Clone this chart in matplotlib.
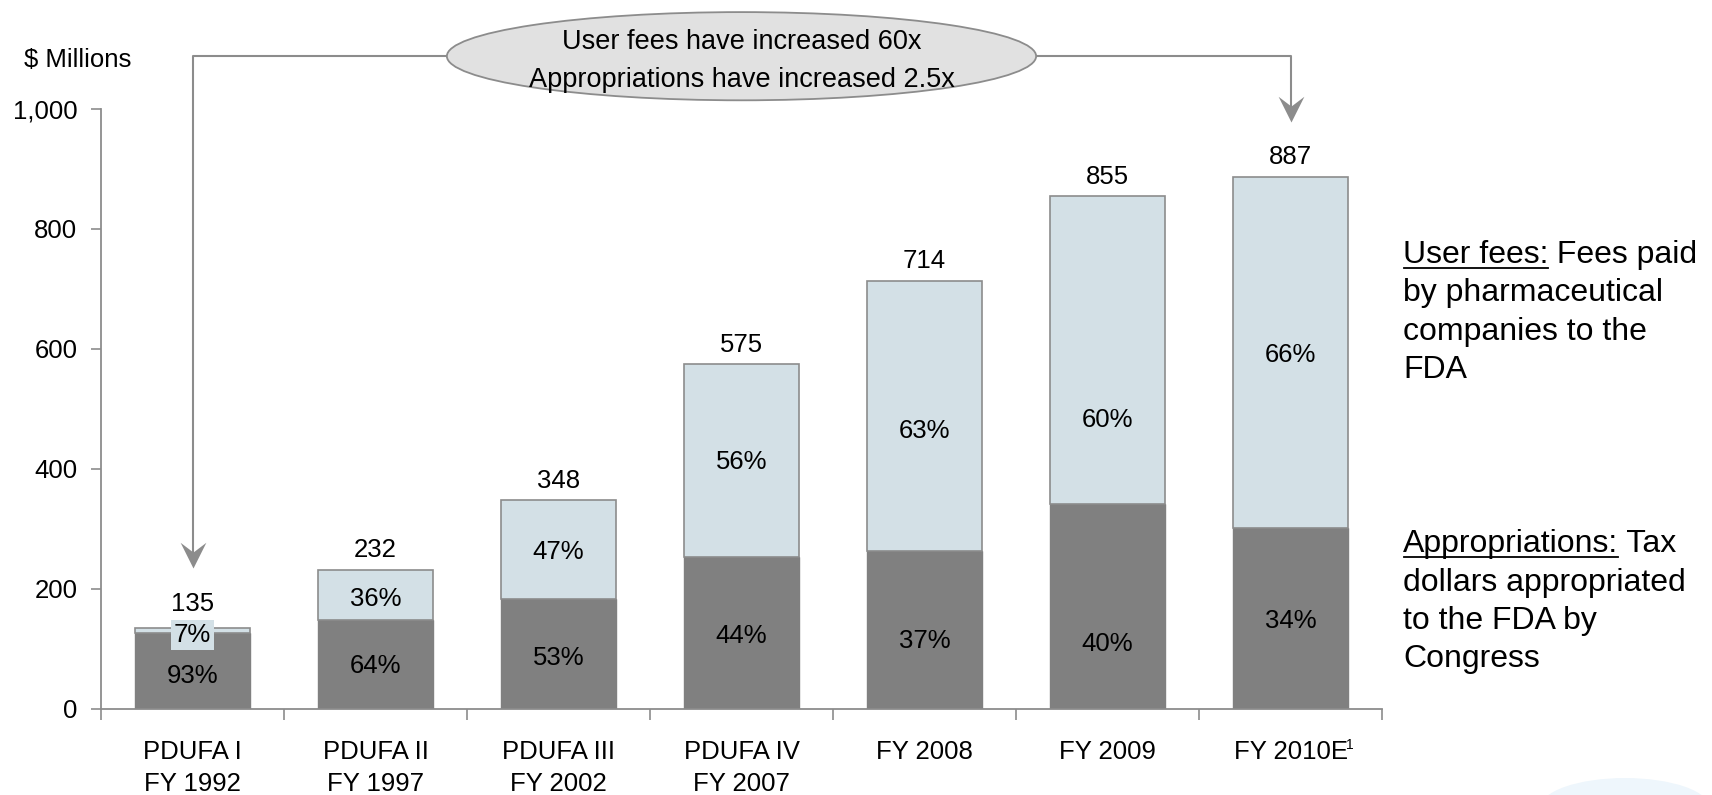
import matplotlib
matplotlib.use("Agg")
import matplotlib.pyplot as plt
import numpy as np
from matplotlib.patches import Ellipse
from matplotlib.path import Path
from matplotlib.lines import Line2D

plt.rcParams['font.family'] = ['Liberation Sans', 'DejaVu Sans']

# data ($ millions)
categories = ["PDUFA I\nFY 1992", "PDUFA II\nFY 1997", "PDUFA III\nFY 2002",
              "PDUFA IV\nFY 2007", "FY 2008", "FY 2009", "FY 2010E"]
totals = [135, 232, 348, 575, 714, 855, 887]
appropriations = [126, 149, 184, 253, 264, 342, 302]
user_fees = [9, 83, 164, 322, 450, 513, 585]
approp_pct = [93, 64, 53, 44, 37, 40, 34]
fees_pct = [7, 36, 47, 56, 63, 60, 66]

callout = "User fees have increased 60x\nAppropriations have increased 2.5x"

# where the % labels sit on each bar (y, in $M) - not always the segment centre
approp_label_y = [55, 72, 85, 122, 113, 108, 146]
fees_label_y = [124, 184, 261, 412, 463, 481, 590]

DARK = '#808080'
LIGHT = '#d3e0e6'
EDGE = '#8c8c8c'
ELL = '#e1e1e1'

W, H = 1712, 795
fig = plt.figure(figsize=(W / 100, H / 100), dpi=100)
ax = fig.add_axes([101 / W, 1 - 709 / H, 1281 / W, 600 / H])

x = np.arange(len(categories))
bw = 0.63
ax.bar(x, appropriations, width=bw, color=DARK, edgecolor=DARK, linewidth=1)
ax.bar(x, user_fees, bottom=appropriations, width=bw, color=LIGHT,
       edgecolor=EDGE, linewidth=1.2)

fs = 18.5
for i, xi in enumerate(x):
    small = user_fees[i] < 30
    ax.annotate(str(totals[i]), (xi, totals[i]), xytext=(0, 12 if small else 9),
                textcoords='offset points', ha='center', va='baseline', fontsize=fs)
    ax.text(xi, approp_label_y[i], f"{approp_pct[i]}%", ha='center', va='center', fontsize=fs)
    # tiny segment -> label gets its own light box
    box = dict(boxstyle='square,pad=0.12', fc=LIGHT, ec='none') if small else None
    ax.text(xi, fees_label_y[i], f"{fees_pct[i]}%", ha='center', va='center',
            fontsize=fs, bbox=box)

ax.set_xlim(-0.5, len(categories) - 0.5)
ax.set_ylim(0, 1000)
for s in ['top', 'right']:
    ax.spines[s].set_visible(False)
for s in ['left', 'bottom']:
    ax.spines[s].set_color(EDGE)
    ax.spines[s].set_linewidth(1.3)

yt = np.arange(0, 1001, 200)
ax.set_yticks(yt)
ax.set_yticklabels([f"{v:,}" for v in yt])
ax.tick_params(axis='y', length=7, width=1.2, color=EDGE, pad=10, labelsize=fs)

ax.set_xticks(np.arange(-0.5, len(categories), 1))
ax.set_xticklabels([])
ax.set_xticks(x, minor=True)
ax.set_xticklabels(categories, minor=True, linespacing=1.42)
ax.tick_params(axis='x', which='major', length=8, width=1.2, color=EDGE)
ax.tick_params(axis='x', which='minor', length=0, pad=22, labelsize=fs)
# footnote marker on the last label
ax.annotate("1", xy=(x[-1], 0), xytext=(40, -21), textcoords='offset points',
            ha='left', va='top', fontsize=10, annotation_clip=False)

fig.text(78 / W, 1 - 60 / H, "$ Millions", ha='center', va='center', fontsize=fs)

# callout ellipse + connectors
cy = 1088
ex, ew, eh = 3, 3.22, 147
ax.add_patch(Ellipse((ex, cy), ew, eh, fc=ELL, ec=EDGE, lw=1.3, clip_on=False, zorder=3))
ax.text(ex, cy - 8, callout, ha='center', va='center', fontsize=19.5,
        linespacing=1.6, zorder=4)

head = Path([(0, 0), (-0.5, 1), (0, 0.62), (0.5, 1), (0, 0)],
            [Path.MOVETO, Path.LINETO, Path.LINETO, Path.LINETO, Path.CLOSEPOLY])
tip_l = totals[0] + 100
tip_r = totals[-1] + 91
ax.plot([x[0], x[0], ex - ew / 2], [tip_l + 15, cy, cy], color=EDGE, lw=1.5, clip_on=False)
ax.plot([ex + ew / 2, x[-1], x[-1]], [cy, cy, tip_r + 15], color=EDGE, lw=1.5, clip_on=False)
for xa, ya in [(x[0], tip_l), (x[-1], tip_r)]:
    ax.plot(xa, ya, marker=head, markersize=37, color=EDGE, mew=0, ls='none', clip_on=False)

# right-hand notes
nfs = 23
renderer = fig.canvas.get_renderer()


def note(y0, head_txt, rest, more):
    t = fig.text(1403 / W, 1 - y0 / H, head_txt, fontsize=nfs, va='baseline', ha='left')
    ax.annotate(rest, xy=(1, 0), xycoords=t, va='bottom', ha='left',
                fontsize=nfs, annotation_clip=False)
    bb = t.get_window_extent(renderer)
    yl = (H - y0 - 5) / H
    fig.add_artist(Line2D([bb.x0 / W + 0.0005, bb.x1 / W], [yl, yl],
                          transform=fig.transFigure, color='black', lw=1.3))
    for k, line in enumerate(more, start=1):
        fig.text(1403 / W, 1 - (y0 + 38.5 * k) / H, line, fontsize=nfs,
                 va='baseline', ha='left')


note(263, "User fees:", " Fees paid", ["by pharmaceutical", "companies to the", "FDA"])
note(552, "Appropriations:", " Tax", ["dollars appropriated", "to the FDA by", "Congress"])

# faint decoration in the corner
fig.add_artist(Ellipse((1625 / W, 1 - 808 / H), 170 / W, 60 / H,
                       transform=fig.transFigure, fc='#eef6fc', ec='none', zorder=-5))

fig.savefig("out.png", dpi=100)
